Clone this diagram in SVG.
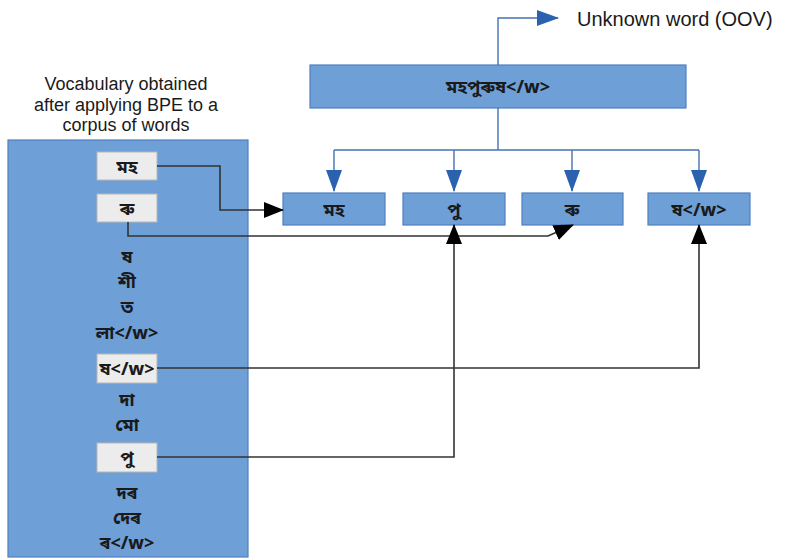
<svg xmlns="http://www.w3.org/2000/svg" width="792" height="558" viewBox="0 0 792 558">
<style>
.t{font-family:"Liberation Sans","Noto Sans",sans-serif;fill:#1a1a1a}
.b{font-family:"Noto Sans Bengali","Noto Sans","Liberation Sans",sans-serif;fill:#1a1a1a;font-size:18px;font-weight:bold;text-anchor:middle}
.blue{fill:#6e9fd7;stroke:#4f7fbf;stroke-width:1.2}
.light{fill:#ececec;stroke:#b8b8b8;stroke-width:1}
.bl{fill:none;stroke:#4470b0;stroke-width:1.4}
.bk{fill:none;stroke:#333;stroke-width:1.6}
</style>
<defs>
<marker id="ab" markerWidth="22" markerHeight="16" refX="21" refY="8" orient="auto" markerUnits="userSpaceOnUse"><path d="M0,0 L22,8 L0,16 z" fill="#2b62b0"/></marker>
<marker id="ak" markerWidth="20" markerHeight="16" refX="19" refY="8" orient="auto" markerUnits="userSpaceOnUse"><path d="M0,0 L20,8 L0,16 z" fill="#000"/></marker>
</defs>
<rect width="792" height="558" fill="#fff"/>
<g id="title" class="t" font-size="18" text-anchor="middle">
<text x="126" y="90">Vocabulary obtained</text>
<text x="126" y="111">after applying BPE to a</text>
<text x="126" y="131">corpus of words</text>
</g>
<g id="vocab">
<rect class="blue" x="8" y="140" width="240" height="417"/>
<rect class="light" x="97" y="152" width="60" height="28"/>
<text class="b" x="127" y="173">মহ</text>
<rect class="light" x="97" y="194" width="60" height="28"/>
<text class="b" x="127" y="215">ৰু</text>
<text class="b" x="127" y="263">ষ</text>
<text class="b" x="127" y="288">শী</text>
<text class="b" x="127" y="313">ত</text>
<text class="b" x="127" y="339">লা&lt;/w&gt;</text>
<rect class="light" x="97" y="354" width="60" height="29"/>
<text class="b" x="127" y="375">ষ&lt;/w&gt;</text>
<text class="b" x="127" y="406">দা</text>
<text class="b" x="127" y="431">মো</text>
<rect class="light" x="97" y="443" width="60" height="29"/>
<text class="b" x="127" y="464">পু</text>
<text class="b" x="127" y="499">দৰ</text>
<text class="b" x="127" y="524">দেৰ</text>
<text class="b" x="127" y="549">ৰ&lt;/w&gt;</text>
</g>
<g id="word">
<rect class="blue" x="310" y="65" width="376" height="43"/>
<text class="b" x="498" y="93">মহপুৰুষ&lt;/w&gt;</text>
</g>
<g id="oov">
<text class="t" x="577" y="26" font-size="20">Unknown word (OOV)</text>
</g>
<g id="tok1"><rect class="blue" x="283" y="193" width="102" height="32"/><text class="b" x="334" y="216">মহ</text></g>
<g id="tok2"><rect class="blue" x="403" y="193" width="102" height="32"/><text class="b" x="454" y="216">পু</text></g>
<g id="tok3"><rect class="blue" x="522" y="193" width="101" height="32"/><text class="b" x="572" y="216">ৰু</text></g>
<g id="tok4"><rect class="blue" x="648" y="193" width="102" height="32"/><text class="b" x="699" y="216">ষ&lt;/w&gt;</text></g>
<g id="connectors">
<path class="bl" d="M498,65 V18 H558" marker-end="url(#ab)"/>
<path class="bl" d="M498,108 V150"/>
<path class="bl" d="M334,150 H699"/>
<path class="bl" d="M334,150 V191" marker-end="url(#ab)"/>
<path class="bl" d="M454,150 V191" marker-end="url(#ab)"/>
<path class="bl" d="M572,150 V191" marker-end="url(#ab)"/>
<path class="bl" d="M699,150 V191" marker-end="url(#ab)"/>
<path class="bk" d="M157,166 H220 V210 H283" marker-end="url(#ak)"/>
<path class="bk" d="M128,222 V236 H548 L573,225" marker-end="url(#ak)"/>
<path class="bk" d="M157,368 H699 V225" marker-end="url(#ak)"/>
<path class="bk" d="M157,457 H454 V225" marker-end="url(#ak)"/>
</g>
</svg>
